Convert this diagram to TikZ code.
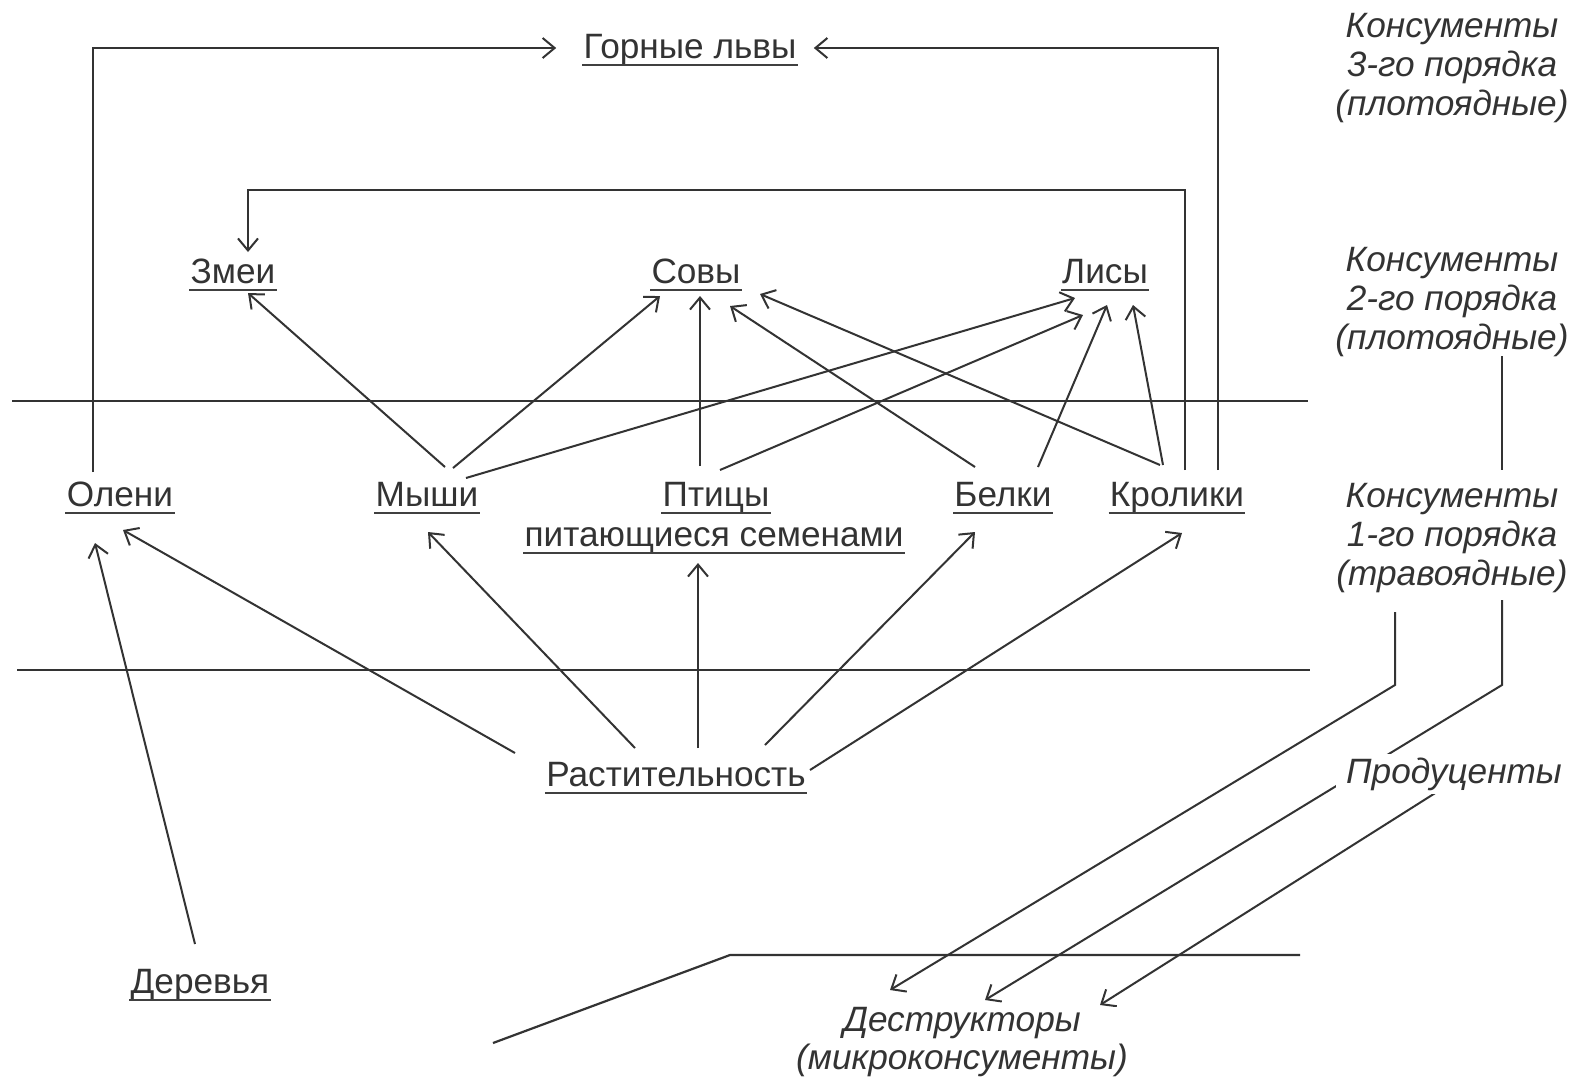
\documentclass[tikz,border=0pt]{standalone}
\usepackage{fontspec}
\setmainfont{Liberation Sans}
\usetikzlibrary{arrows.meta,calc}
\pgfdeclarelayer{bg}
\pgfsetlayers{bg,main}
\begin{document}
\begin{tikzpicture}[x=0.5pt,y=-0.5pt,
  every node/.style={inner sep=0pt},
  taxon/.style={font=\fontsize{17.6}{20}\selectfont, text=black!80, anchor=base},
  level/.style={font=\fontsize{17.6}{19.3}\selectfont\itshape, text=black!80, align=center, fill=white},
  ulin/.style={line width=1.2pt, black!75},
  link/.style={line width=1pt, black!80},
  arr/.style={link, -{Straight Barb[length=6pt,width=10pt]}},
  sep/.style={line width=1.1pt, black!80}]
\useasboundingbox (0,0) rectangle (1580,1088);

% organism nodes
\node[taxon] (lions)   at (690,58)  {Горные львы};
\node[taxon] (snakes)  at (233,283) {Змеи};
\node[taxon] (owls)    at (696,283) {Совы};
\node[taxon] (foxes)   at (1105,283) {Лисы};
\node[taxon] (deer)    at (120,506) {Олени};
\node[taxon] (mice)    at (427,506) {Мыши};
\node[taxon] (birds)   at (716,506) {Птицы};
\node[taxon] (birds2)  at (714,546) {питающиеся семенами};
\node[taxon] (squir)   at (1003,506) {Белки};
\node[taxon] (rabbits) at (1177,506) {Кролики};
\node[taxon] (plants)  at (676,786) {Растительность};
\node[taxon] (trees)   at (200,993) {Деревья};

\foreach \n in {lions,snakes,owls,foxes,deer,mice,birds,birds2,squir,rabbits,plants,trees}
  \draw[ulin] ($(\n.base west)+(-1,7)$) -- ($(\n.base east)+(1,7)$);

% level labels
\node[level] (lvl3)  at (1452,68)  {Консументы\\3-го порядка\\(плотоядные)};
\node[level] (lvl2)  at (1452,302) {Консументы\\2-го порядка\\(плотоядные)};
\node[level] (lvl1)  at (1452,538) {Консументы\\1-го порядка\\(травоядные)};
\node[level, inner xsep=5pt, inner ysep=2pt] (prod)  at (1454,774) {Продуценты};
\node[level] (destr) at (962,1042) {Деструкторы\\(микроконсументы)};

% separating lines
\draw[sep] (12,401) -- (1308,401);
\draw[sep] (17,670) -- (1310,670);
\draw[sep] (493,1043) -- (730,955) -- (1300,955);

\begin{pgfonlayer}{bg}
\fill[white] (0,0) rectangle (1580,1088);
\draw[arr] ($(deer.base)+(-27,-34)$) |- ($(lions.base west)+(-27,-10)$);
\draw[arr] ($(rabbits.base)+(41,-36)$) |- ($(lions.base east)+(17,-10)$);
\draw[arr] ($(rabbits.base)+(8,-36)$) -- ++(0,-280) -| ($(snakes.base)+(15,-31)$);
\draw[arr] ($(mice.base)+(18,-39)$) -- ($(snakes.base)+(15,10)$);
\draw[arr] ($(mice.base)+(26,-38)$) -- ($(owls.base)+(-36,13)$);
\draw[arr] ($(mice.base)+(39,-28)$) -- ($(foxes.base)+(-30,15)$);
\draw[arr] ($(birds.base)+(-16,-40)$) -- ($(owls.base)+(4,13)$);
\draw[arr] ($(birds.base)+(4,-36)$) -- ($(foxes.base)+(-22,32)$);
\draw[arr] ($(squir.base)+(-28,-39)$) -- ($(owls.base)+(34,23)$);
\draw[arr] ($(squir.base)+(35,-39)$) -- ($(foxes.base)+(2,22)$);
\draw[arr] ($(rabbits.base)+(-17,-41)$) -- ($(owls.base)+(64,11)$);
\draw[arr] ($(rabbits.base)+(-14,-41)$) -- ($(foxes.base)+(28,22)$);
\draw[arr] ($(plants.base)+(-161,-33)$) -- ($(deer.base)+(3,24)$);
\draw[arr] ($(plants.base)+(-41,-38)$) -- ($(mice.base)+(1,26)$);
\draw[arr] ($(plants.base)+(22,-38)$) -- ($(birds2.base)+(-16,17)$);
\draw[arr] ($(plants.base)+(89,-41)$) -- ($(squir.base)+(-28,26)$);
\draw[arr] ($(plants.base)+(134,-16)$) -- ($(rabbits.base)+(5,27)$);
\draw[arr] ($(trees.base)+(-5,-49)$) -- ($(deer.base)+(-25,37)$);
% right side
\draw[link] ($(lvl2.center)+(50,43)$) -- ($(lvl1.center)+(50,-68)$);
\draw[arr] ($(lvl1.center)+(-57,74)$) -- ++(0,73) -- ($(destr.center)+(-72,-52)$);
\draw[arr] ($(lvl1.center)+(50,62)$) -- ++(0,85) -- ($(destr.center)+(23,-42)$);
\draw[arr] ($(prod.center)+(-14,16)$) -- ($(destr.center)+(138,-37)$);
\end{pgfonlayer}
\end{tikzpicture}
\end{document}
